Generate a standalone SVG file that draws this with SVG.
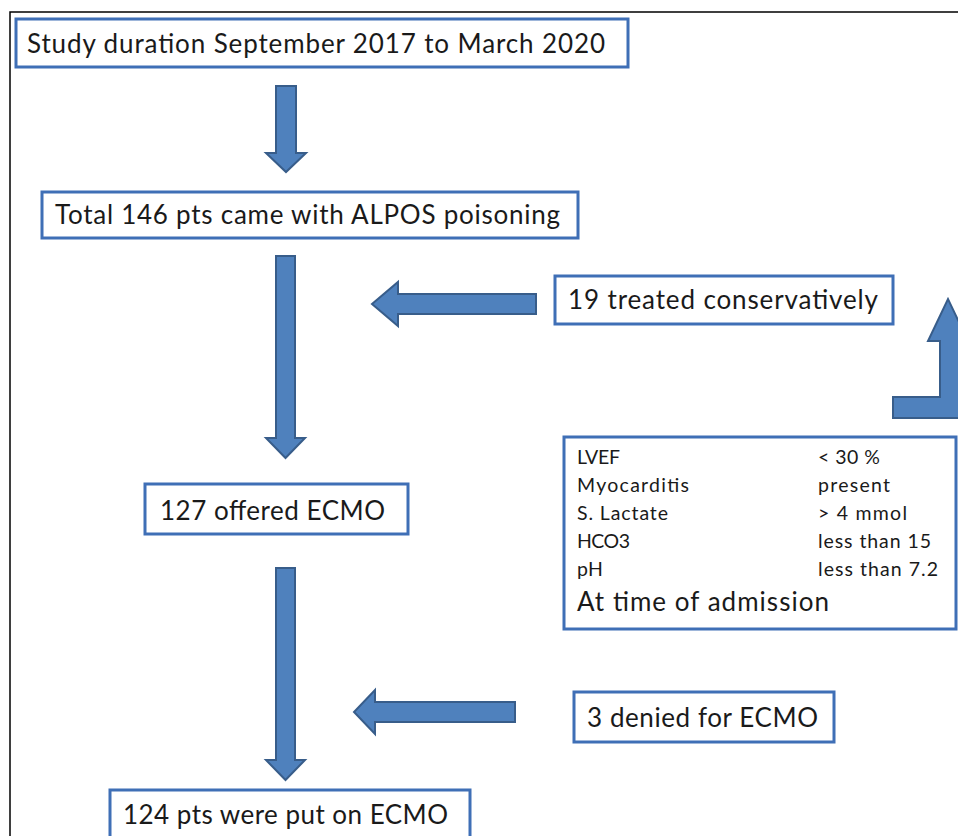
<svg xmlns="http://www.w3.org/2000/svg" width="958" height="836" viewBox="0 0 958 836">
<style>
.bx{fill:#fff;stroke:#3F6FB6;stroke-width:3}
.ar{fill:#4F81BD;stroke:#385D8A;stroke-width:2;stroke-linejoin:miter}
.t{font-family:Lato,"Liberation Sans",sans-serif;font-size:26px;fill:#1a1a1a}
.s{font-family:Lato,"Liberation Sans",sans-serif;font-size:19.5px;fill:#1a1a1a}
</style>
<rect width="958" height="836" fill="#fff"/>
<path d="M10 836V12H958" fill="none" stroke="#000" stroke-width="1.5"/>
<g id="connectors">
<path class="ar" d="M276 86H296V153H306L286 172L266 153H276Z"/>
<path class="ar" d="M276 256H295V438H305L285.5 458L266 438H276Z"/>
<path class="ar" d="M536 294V314H398V326L372 304L398 282V294Z"/>
<path class="ar" d="M893 397H940V341H928L948 299L968 341H960V418H893Z"/>
<path class="ar" d="M276 568H295V760H305L285.5 780L266 760H276Z"/>
<path class="ar" d="M515 702V722H375V734L354 712L375 690V702Z"/>
</g>
<g id="n1"><rect class="bx" x="16" y="19" width="612" height="48"/><text class="t" x="27" y="53" textLength="578">Study duration September 2017 to March 2020</text></g>
<g id="n2"><rect class="bx" x="42" y="192" width="536" height="46"/><text class="t" x="55" y="224" textLength="505">Total 146 pts came with ALPOS poisoning</text></g>
<g id="n3"><rect class="bx" x="555" y="276" width="338" height="48"/><text class="t" x="568" y="309" textLength="310">19 treated conservatively</text></g>
<g id="n4"><rect class="bx" x="564" y="437" width="392" height="192"/>
<text class="s" x="577" y="464" textLength="43">LVEF</text><text class="s" x="818" y="464" textLength="62">&lt; 30 %</text>
<text class="s" x="577" y="492" textLength="112">Myocarditis</text><text class="s" x="818" y="492" textLength="72">present</text>
<text class="s" x="577" y="520" textLength="91">S. Lactate</text><text class="s" x="818" y="520" textLength="89">&gt; 4 mmol</text>
<text class="s" x="577" y="548" textLength="53">HCO3</text><text class="s" x="818" y="548" textLength="113">less than 15</text>
<text class="s" x="577" y="576" textLength="26">pH</text><text class="s" x="818" y="576" textLength="120">less than 7.2</text>
<text class="t" x="577" y="611" textLength="252">At time of admission</text></g>
<g id="n5"><rect class="bx" x="145" y="484" width="263" height="50"/><text class="t" x="160" y="520" textLength="225">127 offered ECMO</text></g>
<g id="n6"><rect class="bx" x="574" y="692" width="260" height="50"/><text class="t" x="587" y="727" textLength="231">3 denied for ECMO</text></g>
<g id="n7"><rect class="bx" x="110" y="790" width="360" height="48"/><text class="t" x="123" y="824" textLength="325">124 pts were put on ECMO</text></g>
</svg>
